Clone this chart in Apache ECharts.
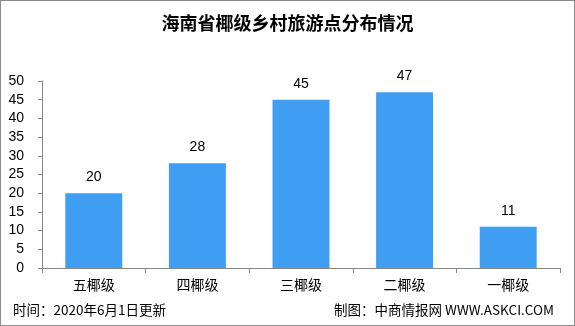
<!DOCTYPE html>
<html><head><meta charset="utf-8">
<script src="https://cdn.jsdelivr.net/npm/echarts@6/dist/echarts.min.js"></script>
<style>html,body{margin:0;padding:0;background:#fff}#c{width:575px;height:326px;box-sizing:border-box;border:1px solid #8c8c8c}</style>
</head><body><div id="c"></div>
<script>
const categories = ['五椰级','四椰级','三椰级','二椰级','一椰级'];
const values = [20, 28, 45, 47, 11];
const titleText = '海南省椰级乡村旅游点分布情况';
const footLeft = '时间：2020年6月1日更新';
const footRight = '制图：中商情报网 WWW.ASKCI.COM';
const chart = echarts.init(document.getElementById('c'), null, {renderer:'canvas'});
const ff = '"Liberation Sans","Noto Sans CJK SC",sans-serif';
chart.setOption({
  animation:false,
  textStyle:{fontFamily:ff},
  title:{text:titleText,left:'center',top:8,textStyle:{fontSize:18,fontWeight:'bold',color:'#000',fontFamily:'"Noto Sans CJK SC",sans-serif'}},
  graphic:[
    {type:'text',left:12,top:302,style:{text:footLeft,font:'13.5px "Noto Sans CJK SC",sans-serif',fill:'#000'}},
    {type:'text',right:20,top:302,style:{text:footRight,font:'13.5px "Noto Sans CJK SC",sans-serif',fill:'#000'}}
  ],
  grid:{left:41,right:14,top:80,bottom:57,containLabel:false},
  xAxis:{type:'category',data:categories,
    axisLine:{lineStyle:{color:'#888',width:1}},
    axisTick:{show:true,alignWithLabel:false,length:5,lineStyle:{color:'#888'}},
    axisLabel:{color:'#000',fontSize:14,margin:10,fontFamily:'"Noto Sans CJK SC",sans-serif'}},
  yAxis:{type:'value',min:0,max:50,interval:5,
    axisLine:{show:true,lineStyle:{color:'#888'}},
    axisTick:{show:true,length:4,lineStyle:{color:'#888'}},
    splitLine:{show:false},
    axisLabel:{color:'#000',fontSize:14,margin:18}},
  series:[{type:'bar',data:values,barWidth:'55%',
    itemStyle:{color:'#409ef3'},
    label:{show:true,position:'top',distance:9,color:'#000',fontSize:14}}]
});
</script></body></html>
